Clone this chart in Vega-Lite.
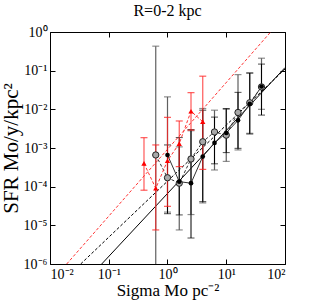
{
  "$schema": "https://vega.github.io/schema/vega-lite/v6.json",
  "autosize": "none",
  "width": 235,
  "height": 232,
  "padding": {"left": 50, "top": 32, "right": 42, "bottom": 43},
  "background": "white",
  "title": {"text": "R=0-2 kpc", "font": "Liberation Serif", "fontSize": 16, "fontWeight": "normal", "offset": 6, "color": "black"},
  "config": {
    "view": {"stroke": "black", "strokeWidth": 1},
    "axis": {"grid": false, "domain": false, "labelFont": "Liberation Serif", "titleFont": "Liberation Serif", "labelColor": "black", "titleColor": "black", "tickColor": "black", "titleFontWeight": "normal", "labelFontSize": 14, "tickSize": -5, "labelPadding": 8}
  },
  "datasets": {
    "red": [
      {"x": 0.398, "y": 0.00040, "lo": 0.000081, "hi": 0.00185},
      {"x": 0.631, "y": 0.000091, "lo": 0.0000076, "hi": 0.0012},
      {"x": 1.0, "y": 0.00047, "lo": 0.000031, "hi": 0.0062},
      {"x": 1.585, "y": 0.0013, "lo": 0.00033, "hi": 0.005},
      {"x": 2.512, "y": 0.0089, "lo": 0.0029, "hi": 0.027},
      {"x": 3.981, "y": 0.0048, "lo": 0.00028, "hi": 0.072}
    ],
    "gray": [
      {"x": 0.631, "y": 0.00066, "lo": 0.0000001, "hi": 0.43},
      {"x": 1.0, "y": 0.00017, "lo": 0.000022, "hi": 0.021},
      {"x": 1.585, "y": 0.000123, "lo": 0.0000076, "hi": 0.00107},
      {"x": 2.512, "y": 0.00052, "lo": 0.000019, "hi": 0.0028},
      {"x": 3.981, "y": 0.00145, "lo": 0.000038, "hi": 0.0105},
      {"x": 6.31, "y": 0.0026, "lo": 0.00027, "hi": 0.0095},
      {"x": 10.0, "y": 0.00215, "lo": 0.00045, "hi": 0.01},
      {"x": 15.85, "y": 0.0083, "lo": 0.00089, "hi": 0.079},
      {"x": 25.12, "y": 0.0148, "lo": 0.0024, "hi": 0.087},
      {"x": 39.81, "y": 0.038, "lo": 0.01, "hi": 0.21}
    ],
    "black": [
      {"x": 1.0, "y": 0.00066, "lo": 0.00002, "hi": 0.0012},
      {"x": 1.585, "y": 0.000135, "lo": 0.0000186, "hi": 0.00186},
      {"x": 2.512, "y": 0.000123, "lo": 0.0000047, "hi": 0.003},
      {"x": 3.981, "y": 0.0006, "lo": 0.000041, "hi": 0.0095},
      {"x": 6.31, "y": 0.00135, "lo": 0.00039, "hi": 0.0063},
      {"x": 10.0, "y": 0.00245, "lo": 0.00076, "hi": 0.0105},
      {"x": 15.85, "y": 0.0052, "lo": 0.00098, "hi": 0.0275},
      {"x": 25.12, "y": 0.0138, "lo": 0.0023, "hi": 0.087},
      {"x": 39.81, "y": 0.039, "lo": 0.0071, "hi": 0.148}
    ],
    "fitRed": [{"x": 0.01923, "y": 0.000001}, {"x": 57.0, "y": 1.0}],
    "fitDash": [{"x": 0.03327, "y": 0.000001}, {"x": 100, "y": 0.11}],
    "fitSolid": [{"x": 0.07586, "y": 0.000001}, {"x": 100, "y": 0.12}]
  },
  "resolve": {"axis": {"x": "independent", "y": "independent"}},
  "layer": [
    {
      "data": {"name": "fitRed"},
      "mark": {"type": "line", "color": "#ff3333", "strokeWidth": 1, "strokeDash": [3, 2], "clip": true},
      "encoding": {
        "x": {"field": "x", "type": "quantitative", "scale": {"type": "log", "domain": [0.01, 100], "nice": false},
          "axis": {"orient": "bottom", "values": [0.01, 0.1, 1, 10, 100], "title": "Sigma Mo pc⁻²", "titleFontSize": 17, "titlePadding": 1,
            "labelExpr": "'10' + ({'-2':'⁻²','-1':'⁻¹','0':'⁰','1':'¹','2':'²'})[round(log(datum.value)/LN10)]"}},
        "y": {"field": "y", "type": "quantitative", "scale": {"type": "log", "domain": [0.000001, 1], "nice": false},
          "axis": {"orient": "left", "values": [0.000001, 0.00001, 0.0001, 0.001, 0.01, 0.1, 1], "title": "SFR Mo/y/kpc²", "titleFontSize": 21, "titlePadding": 2,
            "labelExpr": "'10' + ({'-6':'⁻⁶','-5':'⁻⁵','-4':'⁻⁴','-3':'⁻³','-2':'⁻²','-1':'⁻¹','0':'⁰'})[round(log(datum.value)/LN10)]"}}
      }
    },
    {
      "data": {"name": "fitDash"},
      "mark": {"type": "line", "color": "black", "strokeWidth": 1, "strokeDash": [3, 2], "clip": true},
      "encoding": {
        "x": {"field": "x", "type": "quantitative", "scale": {"type": "log"}, "axis": {"orient": "top", "values": [0.01, 0.1, 1, 10, 100], "labels": false, "title": null}},
        "y": {"field": "y", "type": "quantitative", "scale": {"type": "log"}, "axis": {"orient": "right", "values": [0.000001, 0.00001, 0.0001, 0.001, 0.01, 0.1, 1], "labels": false, "title": null}}
      }
    },
    {
      "data": {"name": "fitSolid"},
      "mark": {"type": "line", "color": "black", "strokeWidth": 1, "clip": true},
      "encoding": {
        "x": {"field": "x", "type": "quantitative", "scale": {"type": "log"}, "axis": null},
        "y": {"field": "y", "type": "quantitative", "scale": {"type": "log"}, "axis": null}
      }
    },
    {
      "data": {"name": "gray"},
      "mark": {"type": "rule", "color": "#606060", "strokeWidth": 1.2, "clip": true},
      "encoding": {
        "x": {"field": "x", "type": "quantitative", "scale": {"type": "log"}, "axis": null},
        "y": {"field": "lo", "type": "quantitative", "scale": {"type": "log"}, "axis": null},
        "y2": {"field": "hi"}
      }
    },
    {
      "data": {"name": "gray"},
      "transform": [{"fold": ["lo", "hi"], "as": ["k", "v"]}],
      "mark": {"type": "tick", "orient": "horizontal", "color": "#606060", "size": 7, "thickness": 1.2, "clip": true},
      "encoding": {
        "x": {"field": "x", "type": "quantitative", "scale": {"type": "log"}, "axis": null},
        "y": {"field": "v", "type": "quantitative", "scale": {"type": "log"}, "axis": null}
      }
    },
    {
      "data": {"name": "black"},
      "mark": {"type": "rule", "color": "black", "strokeWidth": 1, "clip": true},
      "encoding": {
        "x": {"field": "x", "type": "quantitative", "scale": {"type": "log"}, "axis": null},
        "y": {"field": "lo", "type": "quantitative", "scale": {"type": "log"}, "axis": null},
        "y2": {"field": "hi"}
      }
    },
    {
      "data": {"name": "black"},
      "transform": [{"fold": ["lo", "hi"], "as": ["k", "v"]}],
      "mark": {"type": "tick", "orient": "horizontal", "color": "black", "size": 7, "thickness": 1, "clip": true},
      "encoding": {
        "x": {"field": "x", "type": "quantitative", "scale": {"type": "log"}, "axis": null},
        "y": {"field": "v", "type": "quantitative", "scale": {"type": "log"}, "axis": null}
      }
    },
    {
      "data": {"name": "red"},
      "mark": {"type": "rule", "color": "#ff2020", "opacity": 0.75, "strokeWidth": 1.2, "clip": true},
      "encoding": {
        "x": {"field": "x", "type": "quantitative", "scale": {"type": "log"}, "axis": null},
        "y": {"field": "lo", "type": "quantitative", "scale": {"type": "log"}, "axis": null},
        "y2": {"field": "hi"}
      }
    },
    {
      "data": {"name": "red"},
      "transform": [{"fold": ["lo", "hi"], "as": ["k", "v"]}],
      "mark": {"type": "tick", "orient": "horizontal", "color": "#ff2020", "opacity": 0.75, "size": 7, "thickness": 1.2, "clip": true},
      "encoding": {
        "x": {"field": "x", "type": "quantitative", "scale": {"type": "log"}, "axis": null},
        "y": {"field": "v", "type": "quantitative", "scale": {"type": "log"}, "axis": null}
      }
    },
    {
      "data": {"name": "gray"},
      "mark": {"type": "line", "color": "#333333", "strokeWidth": 1, "strokeDash": [3, 2], "clip": true},
      "encoding": {
        "x": {"field": "x", "type": "quantitative", "scale": {"type": "log"}, "axis": null},
        "y": {"field": "y", "type": "quantitative", "scale": {"type": "log"}, "axis": null}
      }
    },
    {
      "data": {"name": "black"},
      "mark": {"type": "line", "color": "#333333", "strokeWidth": 1, "clip": true},
      "encoding": {
        "x": {"field": "x", "type": "quantitative", "scale": {"type": "log"}, "axis": null},
        "y": {"field": "y", "type": "quantitative", "scale": {"type": "log"}, "axis": null}
      }
    },
    {
      "data": {"name": "red"},
      "mark": {"type": "line", "color": "#ff3333", "strokeWidth": 1, "strokeDash": [3, 2], "clip": true},
      "encoding": {
        "x": {"field": "x", "type": "quantitative", "scale": {"type": "log"}, "axis": null},
        "y": {"field": "y", "type": "quantitative", "scale": {"type": "log"}, "axis": null}
      }
    },
    {
      "data": {"name": "gray"},
      "mark": {"type": "point", "shape": "circle", "filled": true, "fill": "#a8a8a8", "stroke": "#222222", "strokeWidth": 1, "size": 40, "opacity": 1},
      "encoding": {
        "x": {"field": "x", "type": "quantitative", "scale": {"type": "log"}, "axis": null},
        "y": {"field": "y", "type": "quantitative", "scale": {"type": "log"}, "axis": null}
      }
    },
    {
      "data": {"name": "black"},
      "mark": {"type": "point", "shape": "circle", "filled": true, "color": "black", "size": 22, "opacity": 1},
      "encoding": {
        "x": {"field": "x", "type": "quantitative", "scale": {"type": "log"}, "axis": null},
        "y": {"field": "y", "type": "quantitative", "scale": {"type": "log"}, "axis": null}
      }
    },
    {
      "data": {"name": "red"},
      "mark": {"type": "point", "shape": "triangle-up", "filled": true, "color": "#ff0000", "size": 28, "opacity": 1},
      "encoding": {
        "x": {"field": "x", "type": "quantitative", "scale": {"type": "log"}, "axis": null},
        "y": {"field": "y", "type": "quantitative", "scale": {"type": "log"}, "axis": null}
      }
    }
  ]
}
